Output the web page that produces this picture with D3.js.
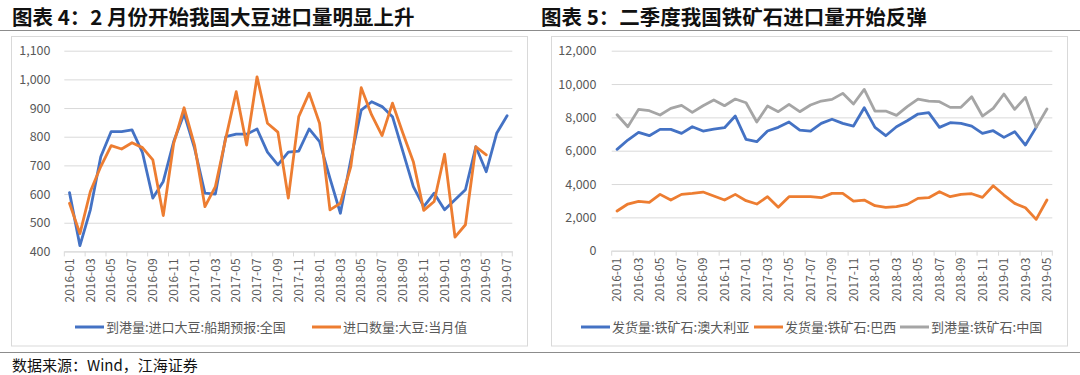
<!DOCTYPE html>
<html><head><meta charset="utf-8">
<script src="https://cdn.jsdelivr.net/npm/d3@7/dist/d3.min.js"></script>
<style>
html,body{margin:0;padding:0;background:#fff;}
svg{display:block;}
text{font-family:"Noto Sans CJK SC","Noto Sans",sans-serif;}
</style></head>
<body>
<svg id="c" width="1080" height="375"></svg>
<script>
// ---------- data ----------
const soyMonths = ["2016-01","2016-02","2016-03","2016-04","2016-05","2016-06","2016-07","2016-08","2016-09","2016-10","2016-11","2016-12",
"2017-01","2017-02","2017-03","2017-04","2017-05","2017-06","2017-07","2017-08","2017-09","2017-10","2017-11","2017-12",
"2018-01","2018-02","2018-03","2018-04","2018-05","2018-06","2018-07","2018-08","2018-09","2018-10","2018-11","2018-12",
"2019-01","2019-02","2019-03","2019-04","2019-05","2019-06","2019-07"];
const soyArrival = [605,420,545,730,818,818,824,745,586,644,783,880,760,603,600,800,809,809,827,746,702,746,750,827,783,655,533,720,893,922,905,870,748,626,556,603,545,580,615,765,678,812,873];
const soyImport = [568,462,609,696,769,757,779,762,719,525,777,901,771,556,626,795,957,771,1009,847,816,586,870,952,847,545,568,696,971,876,804,917,812,713,543,574,739,450,493,765,737];
const soyTicks = [400,500,600,700,800,900,1000,1100];

const oreMonths = soyMonths.slice(0, 41);
const oreAustralia = [6080,6640,7100,6900,7280,7280,7040,7440,7180,7300,7380,8080,6680,6540,7180,7400,7720,7240,7180,7640,7890,7640,7480,8580,7400,6900,7440,7800,8200,8280,7400,7680,7640,7480,7040,7200,6800,7140,6340,7400];
const oreBrazil = [2380,2800,2960,2900,3380,3040,3380,3440,3520,3280,3040,3380,3000,2800,3240,2600,3240,3240,3240,3180,3440,3440,2980,3040,2700,2600,2640,2780,3140,3180,3540,3240,3380,3420,3200,3900,3340,2840,2580,1880,3040];
const oreChina = [8160,7440,8480,8400,8140,8540,8720,8300,8700,9040,8700,9100,8880,7720,8680,8340,8780,8340,8740,8980,9080,9440,8800,9680,8380,8380,8120,8640,9100,8980,8940,8600,8600,9240,8080,8540,9400,8480,9200,7400,8500];
const oreTicks = [0,2000,4000,6000,8000,10000,12000];

const soyNames = ["到港量:进口大豆:船期预报:全国","进口数量:大豆:当月值"];
const oreNames = ["发货量:铁矿石:澳大利亚","发货量:铁矿石:巴西","到港量:铁矿石:中国"];
const titles = ["图表 4：2 月份开始我国大豆进口量明显上升","图表 5：二季度我国铁矿石进口量开始反弹"];
const source = "数据来源：Wind，江海证券";
const colors = ["#4472C4","#ED7D31","#A5A5A5"];

// ---------- drawing ----------
const svg = d3.select("#c");
svg.append("rect").attr("width",1080).attr("height",375).attr("fill","#fff");

svg.append("line").attr("x1",0).attr("x2",1080).attr("y1",30.5).attr("y2",30.5).attr("stroke","#8c8c8c").attr("stroke-width",1);
svg.append("line").attr("x1",0).attr("x2",1080).attr("y1",352.5).attr("y2",352.5).attr("stroke","#8c8c8c").attr("stroke-width",1);

svg.append("text").attr("x",12).attr("y",25).attr("font-size",20.5).attr("font-weight","bold").attr("fill","#111").text(titles[0]);
svg.append("text").attr("x",541).attr("y",25).attr("font-size",20.5).attr("font-weight","bold").attr("fill","#111").text(titles[1]);
svg.append("text").attr("x",12).attr("y",370.5).attr("font-size",15).attr("fill","#111").text(source);

function chart(cfg){
  const g = svg.append("g");
  g.append("rect").attr("x",cfg.box[0]+0.5).attr("y",36.5).attr("width",cfg.box[1]-cfg.box[0]).attr("height",309.5)
    .attr("fill","none").attr("stroke","#d9d9d9");
  const x = d3.scaleBand().domain(cfg.months).range(cfg.xr);
  const y = d3.scaleLinear().domain(cfg.yd).range(cfg.yr);
  // grid
  g.append("g").attr("transform",`translate(${cfg.xr[0]},0)`)
    .call(d3.axisLeft(y).tickValues(cfg.ticks).tickSize(-(cfg.xr[1]-cfg.xr[0])).tickFormat(""))
    .call(s=>s.select(".domain").remove())
    .call(s=>s.selectAll("line").attr("stroke","#d9d9d9").attr("stroke-width",1));
  // y labels
  g.append("g").attr("transform",`translate(${cfg.labelX},0)`)
    .call(d3.axisLeft(y).tickValues(cfg.ticks).tickSize(0).tickPadding(0).tickFormat(d3.format(",")))
    .call(s=>s.select(".domain").remove())
    .call(s=>s.selectAll("text").attr("fill","#595959").attr("font-size",12.5)
      .attr("font-family","'Noto Sans','Noto Sans CJK SC',sans-serif"));
  // x ticks at boundaries
  const step = x.step();
  const bnd = [];
  for(let k=0;k<=cfg.months.length;k+=2) bnd.push(cfg.xr[0]+k*step);
  bnd.push(cfg.xr[1]);
  g.selectAll(".tk").data(bnd).join("line").attr("x1",d=>d).attr("x2",d=>d)
    .attr("y1",y(cfg.yd[0])).attr("y2",y(cfg.yd[0])+5).attr("stroke","#d9d9d9");
  // x labels
  const lab = cfg.months.filter((d,i)=>i%2===0);
  g.append("g").attr("transform",`translate(0,${y(cfg.yd[0])})`)
    .call(d3.axisBottom(x).tickValues(lab).tickSize(0))
    .call(s=>s.select(".domain").attr("stroke","#d9d9d9"))
    .call(s=>s.selectAll("text").attr("fill","#595959").attr("font-size",12)
      .attr("font-family","'Noto Sans','Noto Sans CJK SC',sans-serif")
      .attr("text-anchor","end").attr("dy","0.35em")
      .attr("transform","translate(0,7) rotate(-90)").attr("x",0).attr("y",0));
  // lines
  const line = d3.line().x((d,i)=>x(cfg.months[i])+step/2).y(d=>y(d));
  cfg.series.forEach((s,k)=>{
    g.append("path").datum(s).attr("d",line).attr("fill","none").attr("stroke",colors[cfg.colorIdx[k]])
      .attr("stroke-width",2.8).attr("stroke-linejoin","round").attr("stroke-linecap","round");
  });
  // legend
  cfg.names.forEach((n,k)=>{
    const lx = cfg.legend[k];
    g.append("line").attr("x1",lx).attr("x2",lx+29).attr("y1",327).attr("y2",327)
      .attr("stroke",colors[cfg.colorIdx[k]]).attr("stroke-width",3);
    g.append("text").attr("x",lx+31).attr("y",331.5).attr("font-size",13).attr("fill","#595959").text(n);
  });
}

chart({months:soyMonths, series:[soyArrival, soyImport], names:soyNames, colorIdx:[0,1],
  xr:[64.3,512.3], yd:[400,1100], yr:[251.4,50.7], ticks:soyTicks, labelX:50.5,
  box:[11,527], legend:[75,312]});
chart({months:oreMonths, series:[oreAustralia, oreBrazil, oreChina], names:oreNames, colorIdx:[0,1,2],
  xr:[611.7,1052.3], yd:[0,12000], yr:[250.7,50.7], ticks:oreTicks, labelX:596.5,
  box:[551,1067], legend:[581,754,900]});
</script>
</body></html>
